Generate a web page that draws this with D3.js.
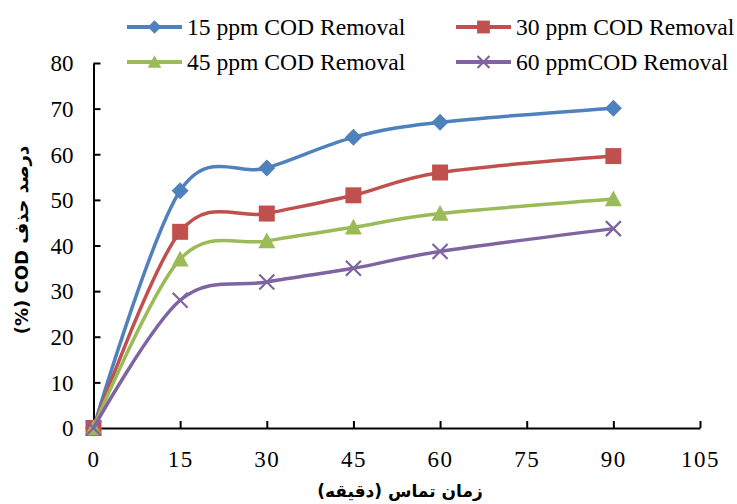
<!DOCTYPE html>
<html>
<head>
<meta charset="utf-8">
<script src="https://cdn.jsdelivr.net/npm/d3@7/dist/d3.min.js"></script>
<style>
  html, body { margin: 0; padding: 0; background: #fff; }
  svg { display: block; }
</style>
</head>
<body>
<script>
// ---- data ----
const times = [0, 15, 30, 45, 60, 90];
const s15 = [0, 52, 57, 63.7, 67, 70.1];
const s30 = [0, 43, 47, 51, 56, 59.6];
const s45 = [0, 37, 41, 44, 47, 50.2];
const s60 = [0, 28, 32, 35, 38.7, 43.7];
const seriesNames = ["15 ppm COD Removal", "30 ppm COD Removal", "45 ppm COD Removal", "60 ppmCOD Removal"];
const xTicks = [0, 15, 30, 45, 60, 75, 90, 105];
const yTicks = [0, 10, 20, 30, 40, 50, 60, 70, 80];
const xTitle = "زمان تماس (دقیقه)";
const yTitle = "درصد حذف COD (%)";

const colors = ["#4F81BD", "#C0504D", "#9BBB59", "#8064A2"];
const markers = ["diamond", "square", "triangle", "cross"];
const allSeries = [s15, s30, s45, s60];

const W = 737, H = 504;
const svg = d3.select("body").append("svg").attr("width", W).attr("height", H);
svg.append("rect").attr("width", W).attr("height", H).attr("fill", "#fff");

const x = d3.scaleLinear().domain([0, 105]).range([93.5, 700]);
const y = d3.scaleLinear().domain([0, 80]).range([428, 63]);

// axes
const yAxis = d3.axisLeft(y).tickValues(yTicks).tickSize(-7).tickSizeOuter(0).tickPadding(20);
const xAxis = d3.axisBottom(x).tickValues(xTicks).tickSize(-7).tickSizeOuter(0).tickPadding(23);

const gy = svg.append("g").attr("transform", `translate(${x(0)},0)`).call(yAxis);
const gx = svg.append("g").attr("transform", `translate(0,${y(0)})`).call(xAxis);
[gx, gy].forEach(g => {
  g.select(".domain").attr("stroke", "#000").attr("stroke-width", 2);
  g.selectAll(".tick line").attr("stroke", "#000").attr("stroke-width", 2);
  g.selectAll(".tick text").attr("fill", "#000")
    .attr("font-family", "'Liberation Serif', 'Times New Roman', serif")
    .attr("font-size", 23);
});
gy.selectAll(".tick text").attr("dy", "0.34em");
gx.selectAll(".tick text").attr("letter-spacing", "1.5px");

// symbol path generator
function symbolPath(type, s) {
  const h = s / 2;
  switch (type) {
    case "diamond": return `M0,${-h}L${h},0L0,${h}L${-h},0Z`;
    case "square": return `M${-h},${-h}H${h}V${h}H${-h}Z`;
    case "triangle": return `M0,${-h}L${h},${h * 0.85}L${-h},${h * 0.85}Z`;
    case "cross": return `M${-h},${-h}L${h},${h}M${h},${-h}L${-h},${h}`;
  }
}
function drawMarker(g, type, color, s) {
  const p = g.append("path").attr("d", symbolPath(type, s));
  if (type === "cross") p.attr("fill", "none").attr("stroke", color).attr("stroke-width", 2.2);
  else p.attr("fill", color).attr("stroke", "none");
}
const markerSize = { diamond: 17, square: 16, triangle: 17, cross: 15 };

const line = d3.line()
  .x((d, i) => x(times[i]))
  .y(d => y(d))
  .curve(d3.curveCatmullRom.alpha(0));

allSeries.forEach((vals, si) => {
  const g = svg.append("g");
  g.append("path").datum(vals).attr("d", line)
    .attr("fill", "none").attr("stroke", colors[si]).attr("stroke-width", 3.5)
    .attr("stroke-linejoin", "round").attr("stroke-linecap", "round");
  vals.forEach((v, i) => {
    const mg = g.append("g").attr("transform", `translate(${x(times[i])},${y(v)})`);
    drawMarker(mg, markers[si], colors[si], markerSize[markers[si]]);
  });
});

// legend
const legendPos = [[127, 27], [456, 27], [127, 62], [456, 62]];
seriesNames.forEach((name, si) => {
  const [lx, ly] = legendPos[si];
  const g = svg.append("g").attr("transform", `translate(${lx},${ly})`);
  g.append("line").attr("x1", 0).attr("x2", 55).attr("y1", 0).attr("y2", 0)
    .attr("stroke", colors[si]).attr("stroke-width", 4);
  const mg = g.append("g").attr("transform", "translate(27.5,0)");
  drawMarker(mg, markers[si], colors[si], markerSize[markers[si]] * 0.8);
  g.append("text").attr("x", 60).attr("y", 0).attr("dy", "0.34em")
    .attr("font-family", "'Liberation Serif', 'Times New Roman', serif")
    .attr("font-size", 23.6).attr("fill", "#000").text(name);
});

// axis titles
svg.append("text")
  .attr("x", 400).attr("y", 497)
  .attr("text-anchor", "middle")
  .attr("direction", "rtl").attr("unicode-bidi", "embed")
  .attr("font-family", "'DejaVu Sans', sans-serif").attr("font-weight", "bold")
  .attr("font-size", 17).attr("fill", "#000").text(xTitle);

svg.append("text")
  .attr("transform", "translate(28,240) rotate(-90)")
  .attr("text-anchor", "middle")
  .attr("direction", "rtl").attr("unicode-bidi", "embed")
  .attr("font-family", "'DejaVu Sans', sans-serif").attr("font-weight", "bold")
  .attr("font-size", 18).attr("fill", "#000").text(yTitle);
</script>
</body>
</html>
